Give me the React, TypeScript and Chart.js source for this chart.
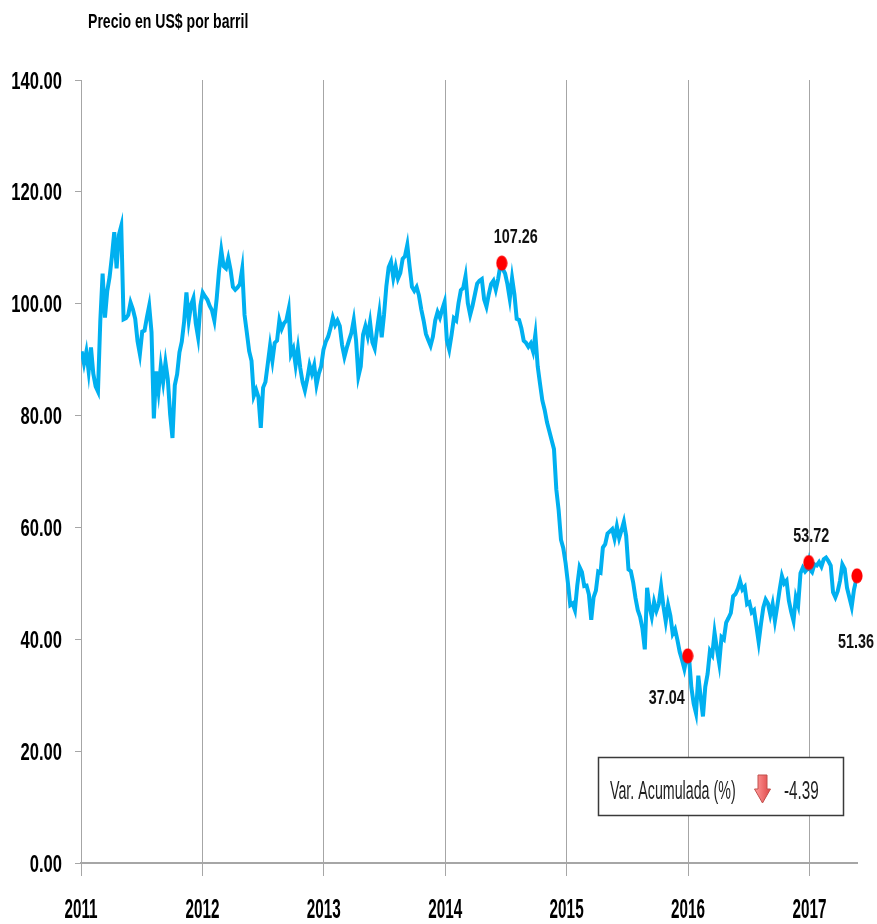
import React, { useEffect, useRef } from "react";
import { Chart, registerables } from "chart.js";

Chart.register(...registerables);

// Weekly WTI levels (US$ per barrel), one value per Monday starting 2011-01-03
const weeklyStart = "2011-01-03";
const price2011 = [91.5, 89.3, 91.4, 87.9, 92.2, 87.5, 85.2, 84.3, 96.9, 105.4, 97.5, 102.3, 104.8, 108.5, 112.8, 106.3, 112.3, 113.9, 97.2, 97.4, 98.0, 100.2, 99.0, 97.3, 93.3, 91.0, 95.0, 95.2, 97.5, 99.6, 94.9, 79.5, 87.9, 84.4, 88.9, 86.0, 89.5, 86.5, 80.2, 76.0, 85.4, 87.4, 91.3, 93.2, 96.8, 102.0, 97.0, 99.8, 101.0, 96.5, 94.0, 99.7];
const price2012 = [102.0, 101.3, 100.7, 99.6, 98.8, 97.0, 100.9, 105.8, 109.5, 106.7, 106.3, 108.1, 106.0, 103.0, 102.5, 102.9, 103.5, 106.2, 98.0, 94.8, 91.5, 89.8, 83.5, 84.6, 83.3, 77.8, 85.0, 86.0, 89.2, 92.5, 89.8, 93.0, 93.4, 97.0, 95.5, 96.5, 97.0, 99.0, 91.0, 92.0, 89.0, 92.0, 88.5, 86.0, 84.5, 86.5, 89.0, 87.5, 89.0, 85.5, 87.5, 88.8, 91.8];
const price2013 = [93.2, 94.1, 95.6, 97.5, 96.2, 97.0, 96.0, 92.6, 90.5, 92.1, 93.5, 94.8, 97.1, 93.4, 87.0, 88.8, 94.5, 96.0, 94.2, 96.7, 93.1, 92.0, 95.4, 98.4, 94.0, 98.0, 103.1, 106.5, 107.5, 104.6, 106.6, 104.5, 105.5, 108.0, 108.5, 110.5, 106.6, 103.0, 102.3, 103.0, 101.5, 99.0, 97.0, 94.6, 93.5, 92.5, 94.1, 97.0, 98.5, 97.5, 99.0, 100.3];
const price2014 = [93.4, 91.8, 94.4, 97.4, 97.0, 100.1, 102.4, 102.8, 104.9, 100.1, 98.0, 99.6, 101.6, 103.6, 104.1, 104.4, 100.8, 99.5, 101.7, 103.5, 104.1, 102.5, 104.4, 106.9, 106.2, 105.4, 103.5, 100.9, 104.6, 101.7, 97.3, 97.1, 95.6, 93.4, 93.0, 92.3, 92.9, 91.5, 94.5, 88.8, 85.7, 82.7, 81.0, 78.8, 77.2, 75.6, 74.0, 66.8, 63.1, 57.8, 56.3, 53.6];
const price2015 = [50.0, 46.1, 46.4, 45.2, 49.6, 52.9, 52.0, 49.5, 49.6, 48.0, 43.5, 47.5, 48.7, 52.1, 51.9, 56.4, 57.0, 58.9, 59.3, 59.7, 58.0, 60.2, 58.1, 59.5, 61.0, 58.5, 52.5, 52.2, 50.2, 47.4, 45.2, 44.0, 41.9, 38.2, 49.2, 45.9, 44.0, 46.7, 45.1, 46.3, 49.4, 45.9, 43.2, 46.1, 44.2, 41.0, 41.8, 39.9, 37.7, 36.3, 34.7, 36.8];
const price2016 = [36.8, 31.4, 28.5, 26.8, 33.5, 29.7, 26.2, 31.5, 33.8, 37.9, 37.2, 41.2, 38.3, 35.7, 40.4, 40.0, 43.0, 43.8, 44.7, 47.7, 48.1, 49.0, 50.4, 48.9, 49.4, 46.3, 46.6, 44.8, 45.2, 42.4, 39.5, 42.8, 45.7, 47.1, 46.4, 44.4, 46.3, 43.3, 45.9, 48.8, 51.3, 50.0, 50.5, 46.9, 44.9, 43.3, 47.5, 46.1, 51.8, 52.8, 52.1, 52.6];
const price2017 = [52.5, 52.0, 53.4, 53.2, 53.8, 53.0, 54.3, 54.6, 54.0, 53.2, 48.4, 47.5, 48.6, 50.5, 53.4, 52.6, 49.2, 47.5, 45.8, 48.9, 50.7];

// Highlighted closes (red markers)
const highlightDates = ["2014-06-20", "2015-12-31", "2016-12-30", "2017-05-24"];
const highlightValues = [107.26, 37.04, 53.72, 51.36];

// Axis ticks
const yMin = 0;
const yMax = 140;
const yStep = 20;
const xStartYear = 2011;

const chartTitle = "Precio en US$ por barril";
const boxLabel = "Var. Acumulada (%)";

// ---- helpers ----
const DAY = 86400000;
function toDecimalYear(t: number): number {
  const d = new Date(t);
  const y = d.getUTCFullYear();
  const s = Date.UTC(y, 0, 1);
  const e = Date.UTC(y + 1, 0, 1);
  return y + (t - s) / (e - s);
}
function parseDate(s: string): number {
  const [y, m, d] = s.split("-").map(Number);
  return Date.UTC(y, m - 1, d);
}

const weeklyValues = [...price2011, ...price2012, ...price2013, ...price2014, ...price2015, ...price2016, ...price2017];
const startT = parseDate(weeklyStart);
const weeklyPoints = weeklyValues.map((v, i) => ({ x: toDecimalYear(startT + i * 7 * DAY), y: v }));
const highlightPoints = highlightDates.map((d, i) => ({ x: toDecimalYear(parseDate(d)), y: highlightValues[i] }));
const linePoints = [...weeklyPoints, ...highlightPoints].sort((a, b) => a.x - b.x);
const xMax = highlightPoints[highlightPoints.length - 1].x;
const cumulativeVar = ((highlightValues[3] / highlightValues[2]) - 1) * 100;

// label offsets (style) relative to each marker: [dx, dy of label centre]
const labelOffsets = [[14, -28], [-21, 41], [2.5, -28], [-1, 65]];

const FAMILY = "'Liberation Sans', Arial, sans-serif";

function squeezeText(ctx: CanvasRenderingContext2D, text: string, x: number, y: number, font: string, color: string, align: CanvasTextAlign, sx: number) {
  ctx.save();
  ctx.font = font;
  ctx.fillStyle = color;
  ctx.textAlign = align;
  ctx.textBaseline = "alphabetic";
  ctx.translate(x, y);
  ctx.scale(sx, 1);
  ctx.fillText(text, 0, 0);
  ctx.restore();
}

function makeEllipse(): HTMLCanvasElement {
  const c = document.createElement("canvas");
  c.width = 12;
  c.height = 16;
  const g = c.getContext("2d")!;
  g.fillStyle = "#ff0000";
  g.beginPath();
  g.ellipse(6, 8, 5.6, 7.6, 0, 0, Math.PI * 2);
  g.fill();
  return c;
}

const overlayPlugin = {
  id: "overlay",
  afterDraw(chart: any) {
    const ctx: CanvasRenderingContext2D = chart.ctx;
    const xs = chart.scales.x;
    const ys = chart.scales.y;

    // Title
    squeezeText(ctx, chartTitle, 88, 28, `bold 21px ${FAMILY}`, "#000", "left", 0.67);

    // Y tick labels
    ys.ticks.forEach((t: any) => {
      const py = ys.getPixelForValue(t.value);
      squeezeText(ctx, Number(t.value).toFixed(2), 62, py + 8.6, `bold 24px ${FAMILY}`, "#000", "right", 0.69);
    });
    // X tick labels
    xs.ticks.forEach((t: any) => {
      if (Math.abs(t.value - Math.round(t.value)) > 1e-6) return;
      const px = xs.getPixelForValue(t.value);
      squeezeText(ctx, String(Math.round(t.value)), px, 918, `bold 28px ${FAMILY}`, "#000", "center", 0.546);
    });

    // Data labels for highlighted points
    const meta = chart.getDatasetMeta(1);
    meta.data.forEach((el: any, i: number) => {
      const [dx, dy] = labelOffsets[i];
      squeezeText(ctx, highlightValues[i].toFixed(2), el.x + dx, el.y + dy + 7.5, `bold 21px ${FAMILY}`, "#111", "center", 0.685);
    });

    // Variation box
    ctx.save();
    ctx.fillStyle = "#ffffff";
    ctx.fillRect(598, 757, 246, 59);
    ctx.strokeStyle = "#3a3a3a";
    ctx.lineWidth = 1.5;
    ctx.strokeRect(598.5, 757.5, 245, 58);
    // arrow
    const grad = ctx.createLinearGradient(755, 0, 770, 0);
    grad.addColorStop(0, "#ff9a9a");
    grad.addColorStop(1, "#e04848");
    ctx.fillStyle = grad;
    ctx.strokeStyle = "#c0504d";
    ctx.lineWidth = 1;
    ctx.beginPath();
    ctx.moveTo(758, 775);
    ctx.lineTo(767, 775);
    ctx.lineTo(767, 789);
    ctx.lineTo(770.5, 789);
    ctx.lineTo(762.5, 803);
    ctx.lineTo(754.5, 789);
    ctx.lineTo(758, 789);
    ctx.closePath();
    ctx.fill();
    ctx.stroke();
    ctx.restore();
    squeezeText(ctx, boxLabel, 610, 799, `25px ${FAMILY}`, "#1f1f1f", "left", 0.57);
    squeezeText(ctx, cumulativeVar.toFixed(2), 784, 799, `25px ${FAMILY}`, "#1f1f1f", "left", 0.61);
  },
};

export default function App() {
  const ref = useRef<HTMLCanvasElement | null>(null);
  useEffect(() => {
    if (!ref.current) return;
    const marker = makeEllipse();
    const chart = new Chart(ref.current, {
      type: "line",
      data: {
        datasets: [
          {
            data: linePoints,
            borderColor: "#00b0f0",
            borderWidth: 4,
            pointRadius: 0,
            tension: 0,
            fill: false,
            order: 2,
          } as any,
          {
            type: "scatter",
            data: highlightPoints,
            pointStyle: marker as any,
            pointRadius: 6,
            backgroundColor: "#ff0000",
            borderColor: "#ff0000",
            clip: false as any,
            showLine: false,
            order: 1,
          } as any,
        ],
      },
      options: {
        animation: false,
        responsive: false,
        events: [],
        layout: { padding: { top: 80, right: 20, left: 0, bottom: 0 } },
        plugins: { legend: { display: false }, tooltip: { enabled: false }, title: { display: false } },
        scales: {
          x: {
            type: "linear",
            min: xStartYear,
            max: xMax,
            ticks: { display: false, stepSize: 1, includeBounds: false } as any,
            grid: { color: "#a6a6a6", lineWidth: 1, tickLength: 13, drawOnChartArea: true, drawTicks: true },
            border: { color: "#a6a6a6", width: 2 },
            afterFit: (s: any) => { s.height = 61; },
          },
          y: {
            type: "linear",
            min: yMin,
            max: yMax,
            ticks: { display: false, stepSize: yStep },
            grid: { color: "#a6a6a6", lineWidth: 1, tickLength: 6, drawOnChartArea: false, drawTicks: true },
            border: { color: "#a6a6a6", width: 1 },
            afterFit: (s: any) => { s.width = 81; },
          },
        },
      },
      plugins: [overlayPlugin],
    });
    return () => chart.destroy();
  }, []);
  return (
    <div style={{ position: "absolute", left: 0, top: 0, width: 877, height: 924, background: "#fff" }}>
      <canvas ref={ref} width={877} height={924} style={{ width: 877, height: 924, display: "block" }} />
    </div>
  );
}
